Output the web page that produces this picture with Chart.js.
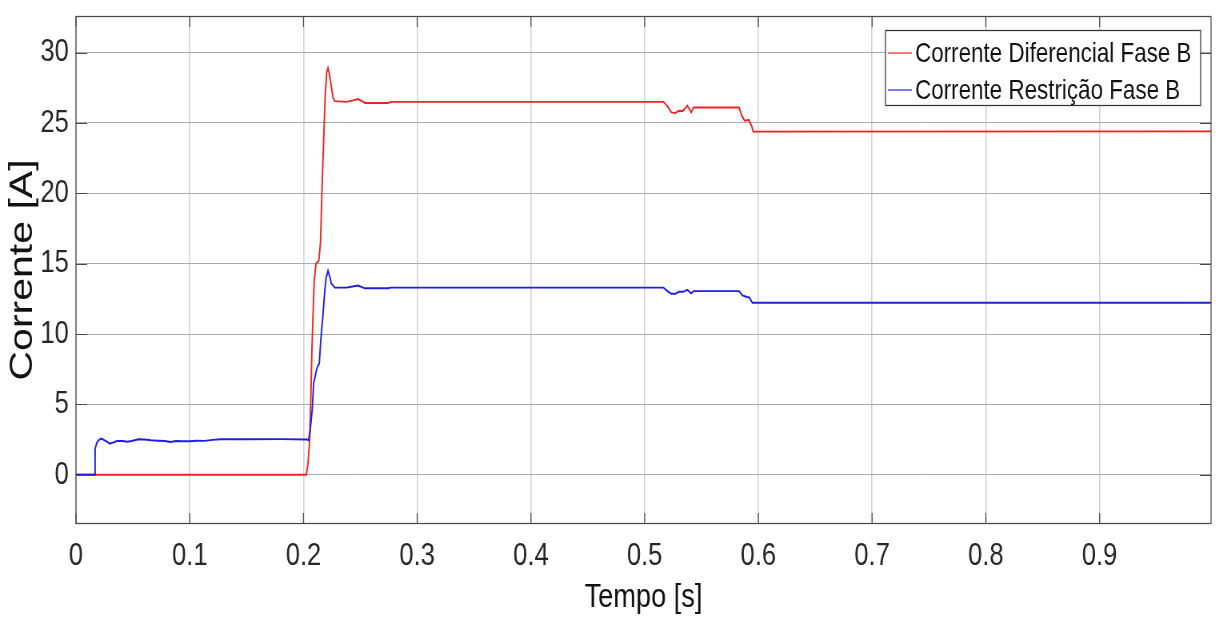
<!DOCTYPE html>
<html>
<head>
<meta charset="utf-8">
<script src="https://cdn.jsdelivr.net/npm/chart.js@4.4.1/dist/chart.umd.min.js"></script>
<style>
html,body{margin:0;padding:0;background:#fff;overflow:hidden;}
#tela{width:1219px;height:617px;overflow:hidden;position:relative;}
/* a figura original está comprimida na horizontal */
#grafico{transform:scaleX(0.79987);transform-origin:0 0;display:block;}
</style>
</head>
<body>
<div id="tela"><canvas id="grafico" width="1524" height="617"></canvas></div>
<script>
// Corrente diferencial (vermelho)
const tempoDif = [0, 0.2025, 0.2040, 0.2055, 0.2065, 0.2075, 0.2085, 0.2095, 0.2110, 0.2135, 0.2150, 0.2165, 0.2180, 0.2192, 0.2205, 0.2216, 0.2225, 0.2245, 0.2260, 0.2275, 0.238, 0.2435, 0.248, 0.2515, 0.254, 0.2744, 0.277, 0.5165, 0.520, 0.5235, 0.527, 0.530, 0.5335, 0.5375, 0.541, 0.543, 0.583, 0.5855, 0.588, 0.5915, 0.594, 0.5955, 0.998];
const correnteDif = [0, 0, 0.8, 2.5, 5.5, 9, 11.5, 13.8, 15.0, 15.2, 16.5, 20.7, 24.3, 27.1, 28.6, 28.9, 28.6, 27.6, 26.8, 26.55, 26.5, 26.6, 26.7, 26.55, 26.42, 26.42, 26.5, 26.5, 26.2, 25.75, 25.7, 25.87, 25.85, 26.22, 25.75, 26.1, 26.1, 25.5, 25.16, 25.23, 24.8, 24.38, 24.4];

// Corrente de restrição (azul)
const tempoRes = [0, 0.0165, 0.0168, 0.0185, 0.0205, 0.0225, 0.026, 0.030, 0.033, 0.036, 0.041, 0.045, 0.049, 0.055, 0.060, 0.066, 0.072, 0.078, 0.083, 0.088, 0.094, 0.100, 0.106, 0.113, 0.120, 0.127, 0.150, 0.180, 0.2035, 0.2045, 0.2060, 0.2077, 0.2090, 0.2111, 0.2125, 0.2139, 0.2153, 0.2170, 0.2188, 0.2200, 0.2216, 0.2232, 0.2245, 0.2275, 0.238, 0.248, 0.254, 0.2744, 0.277, 0.5165, 0.520, 0.5235, 0.527, 0.530, 0.534, 0.5375, 0.541, 0.543, 0.583, 0.586, 0.590, 0.592, 0.5947, 0.998];
const correnteRes = [0, 0, 1.86, 2.3, 2.5, 2.57, 2.4, 2.21, 2.3, 2.4, 2.4, 2.35, 2.4, 2.52, 2.5, 2.45, 2.42, 2.4, 2.33, 2.4, 2.38, 2.38, 2.42, 2.41, 2.48, 2.52, 2.52, 2.53, 2.5, 2.45, 3.2, 4.6, 6.5, 7.3, 7.7, 7.9, 9.6, 11.2, 13.1, 14.0, 14.5, 14.05, 13.6, 13.3, 13.3, 13.45, 13.25, 13.25, 13.3, 13.3, 13.05, 12.86, 12.86, 13.0, 13.0, 13.14, 12.9, 13.05, 13.05, 12.74, 12.63, 12.6, 12.22, 12.22];

const ticksTempo = [0, 0.1, 0.2, 0.3, 0.4, 0.5, 0.6, 0.7, 0.8, 0.9];
const ticksCorrente = [0, 5, 10, 15, 20, 25, 30];
const nomes = ['Corrente Diferencial Fase B', 'Corrente Restrição Fase B'];
const cores = ['rgb(238,34,34)', 'rgb(30,30,225)'];

const FONTE = "'Liberation Sans',Arial,sans-serif";

function pares(t, v){ return t.map((x,i)=>({x:x, y:v[i]})); }

// moldura, marcas internas e legenda dentro da área do gráfico
const moldura = {
  id:'moldura',
  afterDraw(chart){
    const {ctx, chartArea:a, scales} = chart;
    ctx.save();
    ctx.strokeStyle = '#4a4a4a';
    ctx.lineWidth = 1.25;
    ctx.beginPath();
    ticksTempo.forEach(v=>{
      const x = scales.x.getPixelForValue(v);
      ctx.moveTo(x, a.bottom); ctx.lineTo(x, a.bottom - 11);
      ctx.moveTo(x, a.top); ctx.lineTo(x, a.top + 11);
    });
    ctx.stroke();
    ctx.lineWidth = 1;
    ctx.beginPath();
    ticksCorrente.forEach(v=>{
      const y = Math.round(scales.y.getPixelForValue(v)) + 0.5;
      ctx.moveTo(a.left, y); ctx.lineTo(a.left + 14, y);
      ctx.moveTo(a.right, y); ctx.lineTo(a.right - 14, y);
    });
    ctx.stroke();
    ctx.lineWidth = 1.25;
    ctx.strokeRect(a.left, Math.round(a.top)+0.5, a.right-a.left, Math.round(a.bottom-a.top)-1);

    // legenda
    const bw = 394, bh = 75;
    const bx = a.right - 13 - bw, by = a.top + 14.5;
    ctx.fillStyle = '#fff';
    ctx.fillRect(bx, by, bw, bh);
    ctx.strokeStyle = '#333';
    ctx.lineWidth = 1.25;
    ctx.strokeRect(bx, by, bw, bh);
    ctx.font = '28px ' + FONTE;
    ctx.textBaseline = 'middle';
    ctx.textAlign = 'left';
    nomes.forEach((n,i)=>{
      const yy = by + 22.5 + i*37;
      ctx.strokeStyle = cores[i];
      ctx.lineWidth = 1.2;
      ctx.beginPath(); ctx.moveTo(bx + 3, yy); ctx.lineTo(bx + 33, yy); ctx.stroke();
      ctx.fillStyle = '#111';
      ctx.fillText(n, bx + 37, yy + 1);
    });
    ctx.restore();
  }
};

new Chart(document.getElementById('grafico'), {
  type:'line',
  data:{
    datasets:[
      { label:nomes[0], data:pares(tempoDif, correnteDif), borderColor:cores[0], borderWidth:1.9, pointRadius:0, tension:0, order:1 },
      { label:nomes[1], data:pares(tempoRes, correnteRes), borderColor:cores[1], borderWidth:1.9, pointRadius:0, tension:0, order:0 }
    ]
  },
  options:{
    responsive:false,
    animation:false,
    events:[],
    devicePixelRatio:1,
    layout:{ padding:{ top:16, right:10, left:0, bottom:0 } },
    plugins:{ legend:{ display:false }, tooltip:{ enabled:false } },
    scales:{
      x:{
        type:'linear', min:0, max:0.998,
        afterBuildTicks:(s)=>{ s.ticks = ticksTempo.map(v=>({value:v})); },
        afterFit:(s)=>{ s.height = 93; s.paddingLeft = 0; s.paddingRight = 0; },
        grid:{ color:'#d2d2d2', lineWidth:1.6, drawTicks:false },
        border:{ display:false },
        ticks:{ padding:13, maxRotation:0, autoSkip:false, color:'#262626', font:{ family:FONTE, size:32 }, callback:(v)=>String(v) },
        title:{ display:true, text:'Tempo [s]', color:'#111', font:{ family:FONTE, size:34, lineHeight:1 }, padding:{ top:0, bottom:2 } }
      },
      y:{
        type:'linear', min:-3.5, max:32.6,
        afterBuildTicks:(s)=>{ s.ticks = ticksCorrente.map(v=>({value:v})); },
        afterFit:(s)=>{ s.width = 95; s.paddingTop = 0; s.paddingBottom = 0; },
        grid:{ color:'#ababab', lineWidth:1, drawTicks:false },
        border:{ display:false },
        ticks:{ padding:9, color:'#262626', font:{ family:FONTE, size:32 }, callback:(v)=>String(v) },
        title:{ display:true, text:'Corrente [A]', color:'#111', font:{ family:FONTE, size:41 }, padding:{ top:4, bottom:0 } }
      }
    }
  },
  plugins:[moldura]
});
</script>
</body>
</html>
